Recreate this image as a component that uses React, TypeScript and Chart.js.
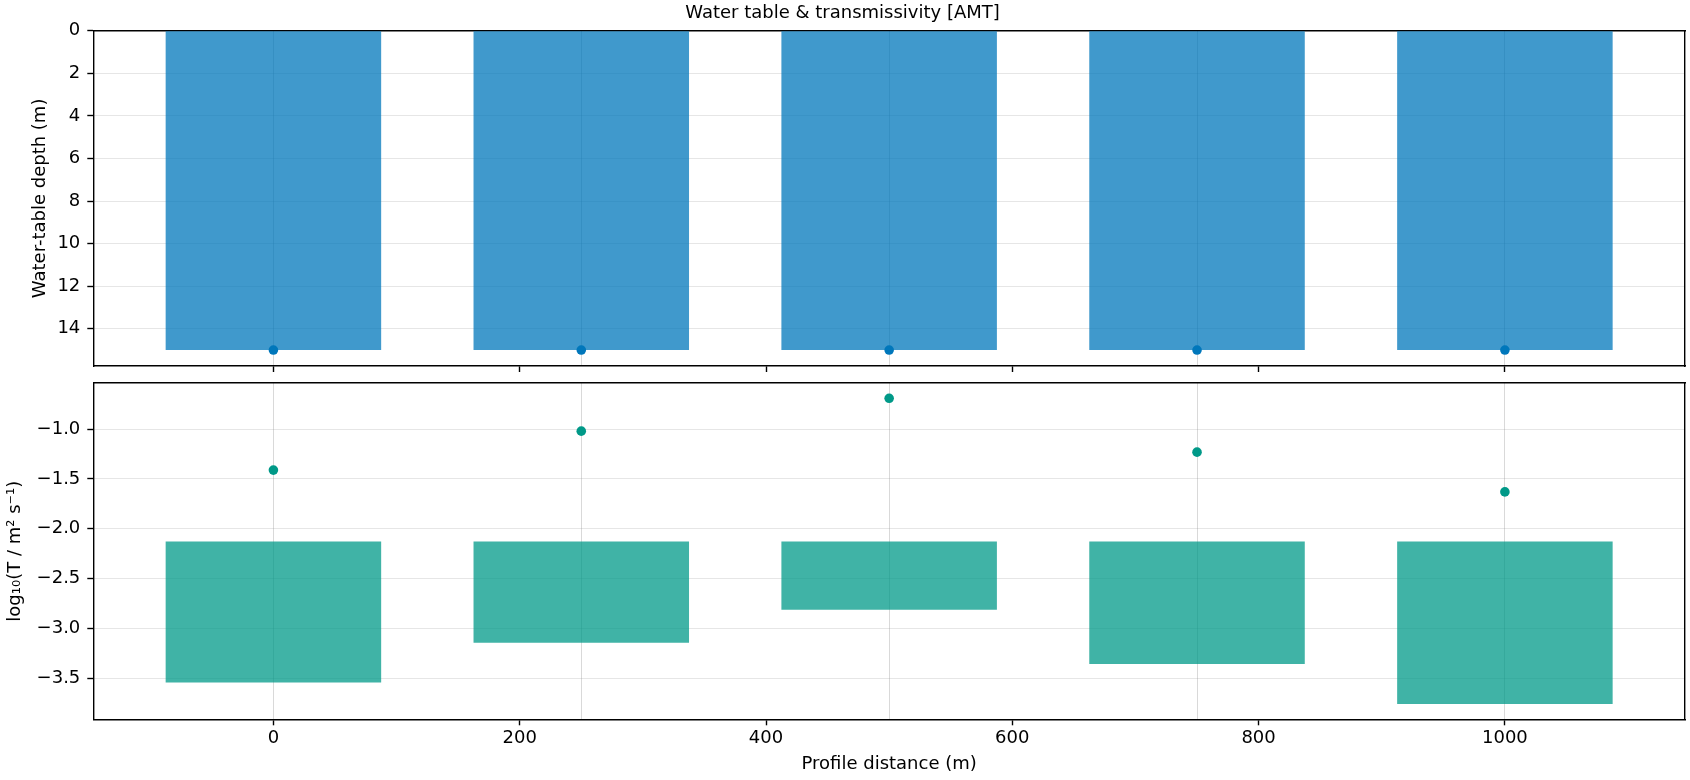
import { useEffect, useRef } from "react";
import { Chart, registerables } from "chart.js";

Chart.register(...registerables);

// stations along the profile (m)
const stations = [0, 250, 500, 750, 1000];
// upper panel: water-table depth (m)
const depthBar = [15, 15, 15, 15, 15];
const depthPoint = [15, 15, 15, 15, 15];
// lower panel: log10 transmissivity
const logTBarTop = [-2.127, -2.127, -2.127, -2.127, -2.127];
const logTBarBottom = [-3.543, -3.144, -2.813, -3.358, -3.76];
const logTPoint = [-1.411, -1.02, -0.69, -1.231, -1.63];

const xTicks = [0, 200, 400, 600, 800, 1000];
const depthTicks = [0, 2, 4, 6, 8, 10, 12, 14];
const logTTicks = [-1.0, -1.5, -2.0, -2.5, -3.0, -3.5];

const BAR_FRACTION = 0.7; // bar width as a share of the station spacing
const FONT = { family: "'DejaVu Sans', sans-serif", size: 18 };
const AXIS_W = 93.3;
const LINE = 1.4;

const spacing = stations[1] - stations[0];
const barWidth = spacing * BAR_FRACTION;
const xLo = stations[0] - barWidth / 2;
const xHi = stations[stations.length - 1] + barWidth / 2;
const X_MIN = xLo - 0.05 * (xHi - xLo);
const X_MAX = xHi + 0.05 * (xHi - xLo);
// chart.js sizes bars from the smallest gap between data points *and* ticks
const rulerStep = Math.min(spacing, xTicks[1] - xTicks[0]);
const CAT_PCT = barWidth / rulerStep;

const minus = (s: string) => s.replace("-", "\u2212");

function xScales(showLabels: boolean) {
  return {
    x: {
      type: "linear",
      position: "bottom",
      min: X_MIN,
      max: X_MAX,
      offset: false,
      afterBuildTicks: (s: any) => {
        s.ticks = xTicks.map((v) => ({ value: v }));
      },
      ticks: {
        display: showLabels,
        padding: 2.6,
        color: "#000",
        font: FONT,
        maxRotation: 0,
        autoSkip: false,
        callback: (v: any) => String(v),
      },
      grid: {
        display: true,
        offset: false,
        drawOnChartArea: false,
        drawTicks: true,
        tickLength: 6,
        tickColor: "#000",
        tickWidth: LINE,
      },
      border: { display: true, color: "#000", width: LINE },
      title: {
        display: showLabels,
        text: "Profile distance (m)",
        color: "#000",
        font: FONT,
        padding: { top: 1.1, bottom: 5.2 },
      },
    },
    xs: {
      type: "linear",
      position: "bottom",
      min: X_MIN,
      max: X_MAX,
      offset: false,
      afterBuildTicks: (s: any) => {
        s.ticks = stations.map((v) => ({ value: v }));
      },
      ticks: { display: false },
      grid: { drawTicks: false, offset: false, color: "rgba(128,128,128,0.3)", lineWidth: 1 },
      border: { display: false },
      z: 1,
    },
    xt: {
      type: "linear",
      position: "top",
      min: X_MIN,
      max: X_MAX,
      ticks: { display: false },
      grid: { display: false, drawTicks: false },
      border: { display: true, color: "#000", width: LINE },
    },
  };
}

const frameRight = {
  type: "linear",
  position: "right",
  min: 0,
  max: 1,
  ticks: { display: false },
  grid: { display: false, drawTicks: false },
  border: { display: true, color: "#000", width: LINE },
};

function yScale(opts: {
  min: number;
  max: number;
  reverse: boolean;
  ticks: number[];
  fmt: (v: number) => string;
  title: string;
  titlePad: number;
}) {
  return {
    type: "linear",
    position: "left",
    min: opts.min,
    max: opts.max,
    reverse: opts.reverse,
    afterBuildTicks: (s: any) => {
      s.ticks = opts.ticks.map((v) => ({ value: v }));
    },
    afterFit: (s: any) => {
      s.width = AXIS_W;
      s.paddingTop = 0;
      s.paddingBottom = 0;
    },
    ticks: {
      color: "#000",
      font: FONT,
      padding: 7,
      autoSkip: false,
      callback: (v: any) => opts.fmt(Number(v)),
    },
    grid: {
      color: "rgba(128,128,128,0.2)",
      lineWidth: 1,
      tickLength: 6,
      tickColor: "#000",
      tickWidth: LINE,
    },
    border: { color: "#000", width: LINE },
    title: {
      display: true,
      text: opts.title,
      color: "#000",
      font: FONT,
      padding: { top: opts.titlePad, bottom: 0 },
    },
    z: 1,
  };
}

function topConfig(): any {
  const depthMax = Math.max(...depthBar, ...depthPoint);
  return {
    type: "bar",
    data: {
      datasets: [
        {
          type: "bar",
          xAxisID: "x",
          yAxisID: "y",
          data: stations.map((x, i) => ({ x, y: [0, depthBar[i]] })),
          backgroundColor: "rgba(0,119,187,0.75)",
          borderWidth: 0,
          barPercentage: 1,
          categoryPercentage: CAT_PCT,
        },
        {
          type: "scatter",
          xAxisID: "x",
          yAxisID: "y",
          data: stations.map((x, i) => ({ x, y: depthPoint[i] })),
          pointRadius: 4.8,
          pointBackgroundColor: "#0077BB",
          pointBorderWidth: 0,
        },
      ],
    },
    options: {
      animation: false,
      responsive: true,
      maintainAspectRatio: false,
      layout: { padding: { left: 0, right: 5, top: 0, bottom: 0 } },
      plugins: {
        legend: { display: false },
        tooltip: { enabled: false },
        title: {
          display: true,
          text: "Water table & transmissivity [AMT]",
          color: "#000",
          font: { ...FONT, weight: "normal" },
          padding: { top: 2.5, bottom: 6.6 },
        },
      },
      scales: {
        y: yScale({
          min: 0,
          max: depthMax * 1.05,
          reverse: true,
          ticks: depthTicks,
          fmt: (v) => String(v),
          title: "Water-table depth (m)",
          titlePad: 29.2,
        }),
        ...xScales(false),
        yr: frameRight,
      },
    },
  };
}

function bottomConfig(): any {
  const lo = Math.min(...logTBarBottom);
  const hi = Math.max(...logTPoint);
  const pad = 0.05 * (hi - lo);
  return {
    type: "bar",
    data: {
      datasets: [
        {
          type: "bar",
          xAxisID: "x",
          yAxisID: "y",
          data: stations.map((x, i) => ({ x, y: [logTBarTop[i], logTBarBottom[i]] })),
          backgroundColor: "rgba(0,153,136,0.75)",
          borderWidth: 0,
          barPercentage: 1,
          categoryPercentage: CAT_PCT,
        },
        {
          type: "scatter",
          xAxisID: "x",
          yAxisID: "y",
          data: stations.map((x, i) => ({ x, y: logTPoint[i] })),
          pointRadius: 4.8,
          pointBackgroundColor: "#009988",
          pointBorderWidth: 0,
        },
      ],
    },
    options: {
      animation: false,
      responsive: true,
      maintainAspectRatio: false,
      layout: { padding: { left: 0, right: 5, top: 11, bottom: 0 } },
      plugins: {
        legend: { display: false },
        tooltip: { enabled: false },
      },
      scales: {
        y: yScale({
          min: lo - pad,
          max: hi + pad,
          reverse: false,
          ticks: logTTicks,
          fmt: (v) => minus(v.toFixed(1)),
          title: "log\u2081\u2080(T / m\u00b2 s\u207b\u00b9)",
          titlePad: 4.7,
        }),
        ...xScales(true),
        yr: frameRight,
      },
    },
  };
}

function Panel({ config, top, height }: { config: () => any; top: number; height: number }) {
  const ref = useRef<HTMLCanvasElement>(null);
  useEffect(() => {
    if (!ref.current) return;
    const chart = new Chart(ref.current, config());
    return () => chart.destroy();
  }, [config]);
  return (
    <div style={{ position: "absolute", left: 0, top, width: 1690, height }}>
      <canvas ref={ref} />
    </div>
  );
}

export default function App() {
  return (
    <div
      style={{
        position: "absolute",
        left: 0,
        top: 0,
        width: 1690,
        height: 780,
        background: "#fff",
      }}
    >
      <Panel config={topConfig} top={0} height={372} />
      <Panel config={bottomConfig} top={372} height={408} />
    </div>
  );
}
